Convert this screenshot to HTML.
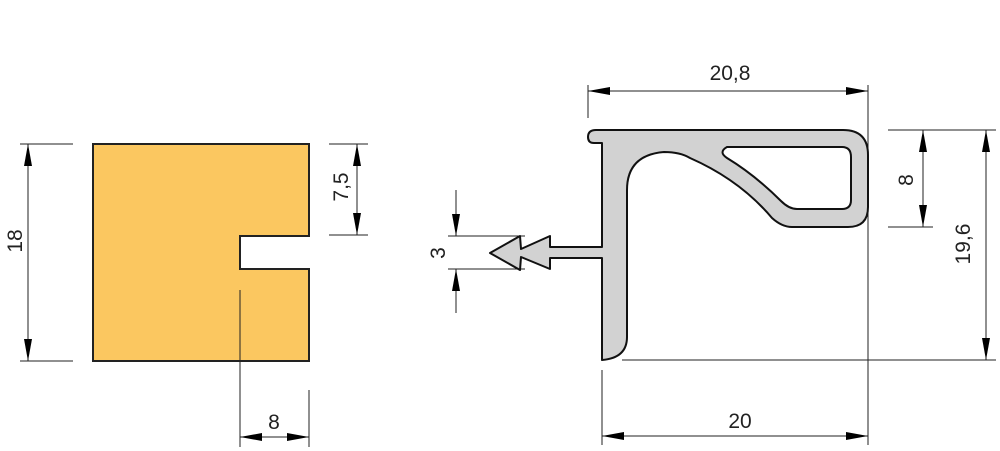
<!DOCTYPE html>
<html><head><style>html,body{margin:0;padding:0;background:#fff}svg{display:block}</style></head>
<body>
<svg width="1000" height="451" viewBox="0 0 1000 451" xmlns="http://www.w3.org/2000/svg" font-family="Liberation Sans, sans-serif">
<defs>
<marker id="a" markerWidth="22" markerHeight="8" refX="22" refY="4" orient="auto-start-reverse" markerUnits="userSpaceOnUse" viewBox="0 0 22 8"><path d="M0,0 L22,4 L0,8 Z" fill="#000"/></marker>
</defs>
<g stroke="#222" stroke-width="1" fill="none">
<line x1="20" y1="144" x2="73" y2="144"/><line x1="20" y1="361" x2="73" y2="361"/>
<line x1="329" y1="144" x2="368" y2="144"/><line x1="329" y1="235" x2="368" y2="235"/>
<line x1="240" y1="290" x2="240" y2="447"/><line x1="309" y1="390" x2="309" y2="447"/>
<line x1="588" y1="85" x2="588" y2="118"/><line x1="868" y1="85" x2="868" y2="445"/>
<line x1="602" y1="370" x2="602" y2="445"/>
<line x1="622" y1="360" x2="996" y2="360"/>
<line x1="888" y1="130" x2="996" y2="130"/><line x1="888" y1="227" x2="933" y2="227"/>
<line x1="448" y1="236" x2="525" y2="236"/><line x1="448" y1="269" x2="525" y2="269"/>
</g>
<path d="M93,144 H309 V236 H240 V269 H309 V361 H93 Z" fill="#fbc760" stroke="#222" stroke-width="2"/>
<line x1="240" y1="290" x2="240" y2="361" stroke="#222" stroke-width="1"/>
<path d="M596,130 H843 Q868,130 868,155 V207 Q868,227 848,227 H792 Q782,227 772,218 Q740,180 690,158 Q680,152 664,152 Q627,155 627,190 V337 Q627,358 602,360 V258 H550 V269 L521,257 L520,270 L490,253 L520,236 L521,249 L550,236 V247 H602 V143 Q598,143 594,143 Q588,143 588,137 Q588,130 596,130 Z" fill="#d2d2d2" stroke="#111" stroke-width="2" stroke-linejoin="round"/>
<path d="M727,147 H842 Q851,147 851,157 V200 Q851,209 842,209 H797 Q789,209 781,201 Q755,175 727,158 Q718,152 727,147 Z" fill="#fff" stroke="#111" stroke-width="2"/>
<g stroke="#222" stroke-width="1">
<line x1="28" y1="144" x2="28" y2="361" marker-start="url(#a)" marker-end="url(#a)"/>
<line x1="357" y1="144" x2="357" y2="235" marker-start="url(#a)" marker-end="url(#a)"/>
<line x1="240" y1="437" x2="309" y2="437" marker-start="url(#a)" marker-end="url(#a)"/>
<line x1="588" y1="91" x2="868" y2="91" marker-start="url(#a)" marker-end="url(#a)"/>
<line x1="602" y1="436" x2="868" y2="436" marker-start="url(#a)" marker-end="url(#a)"/>
<line x1="986" y1="130" x2="986" y2="360" marker-start="url(#a)" marker-end="url(#a)"/>
<line x1="923" y1="130" x2="923" y2="227" marker-start="url(#a)" marker-end="url(#a)"/>
<line x1="456" y1="190" x2="456" y2="236" marker-end="url(#a)"/>
<line x1="456" y1="313" x2="456" y2="269" marker-end="url(#a)"/>
</g>
<g font-size="21" fill="#222" text-anchor="middle">
<text transform="translate(22,241) rotate(-90)">18</text>
<text transform="translate(348,187) rotate(-90)">7,5</text>
<text x="274" y="429">8</text>
<text x="730" y="80">20,8</text>
<text x="740" y="428">20</text>
<text transform="translate(913,180) rotate(-90)">8</text>
<text transform="translate(970,244) rotate(-90)">19,6</text>
<text transform="translate(445,253) rotate(-90)">3</text>
</g>
</svg>
</body></html>
